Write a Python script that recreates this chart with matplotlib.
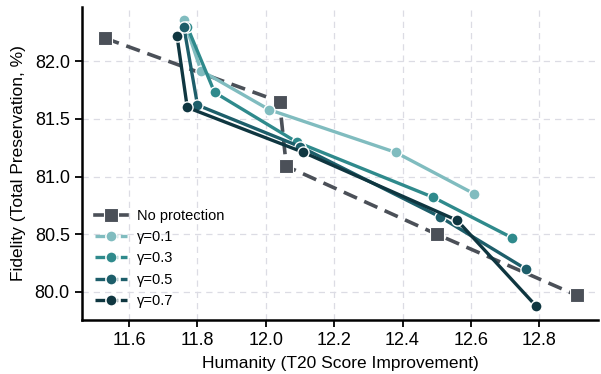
import matplotlib
matplotlib.use("Agg")
import matplotlib.pyplot as plt
from matplotlib.lines import Line2D

plt.rcParams['font.family'] = ['Liberation Sans', 'DejaVu Sans']

# Data
base_x = [11.53, 12.04, 12.06, 12.50, 12.91]
base_y = [82.20, 81.65, 81.09, 80.50, 79.97]

g01_x = [11.76, 11.81, 12.01, 12.38, 12.61]
g01_y = [82.36, 81.92, 81.58, 81.21, 80.85]

g03_x = [11.77, 11.85, 12.09, 12.49, 12.72]
g03_y = [82.30, 81.73, 81.30, 80.82, 80.47]

g05_x = [11.76, 11.80, 12.10, 12.51, 12.76]
g05_y = [82.30, 81.62, 81.26, 80.65, 80.20]

g07_x = [11.74, 11.77, 12.11, 12.56, 12.79]
g07_y = [82.22, 81.60, 81.21, 80.62, 79.88]

labels = ["No protection", "γ=0.1", "γ=0.3", "γ=0.5", "γ=0.7"]
colors = ["#4b5058", "#80bcbf", "#2f8a8c", "#1d5e6a", "#0f3640"]

fig = plt.figure(figsize=(6.01, 3.74), dpi=100)
ax = fig.add_axes([0.137, 0.145, 0.858, 0.836])

ax.grid(True, linestyle=(0, (5, 4)), color="#dcdce4", linewidth=0.9, zorder=0)
ax.set_axisbelow(True)

ax.plot(base_x, base_y, linestyle=(0, (4, 2.2)), color=colors[0], linewidth=2.6,
        marker="s", markersize=10, markeredgecolor="white", markeredgewidth=0.8, zorder=3)

series = [(g01_x, g01_y), (g03_x, g03_y), (g05_x, g05_y), (g07_x, g07_y)]
for i, (xs, ys) in enumerate(series):
    ax.plot(xs, ys, linestyle="-", color=colors[i + 1], linewidth=2.4,
            marker="o", markersize=8, markeredgecolor="white", markeredgewidth=1.0,
            zorder=4 + i)

handles = [Line2D([], [], color=colors[0], linestyle="-", linewidth=2.6, marker="s",
                  markersize=10, markeredgecolor="white", markeredgewidth=0.8)]
for c in colors[1:]:
    handles.append(Line2D([], [], color=c, linestyle=(0, (3, 0.8)), linewidth=2.4, marker="o",
                          markersize=8, markeredgecolor="white", markeredgewidth=1.0))
ax.legend(handles, labels, loc="lower left", frameon=False, fontsize=10.5,
          handlelength=2.2, borderaxespad=0.3, labelspacing=0.5, handletextpad=0.7,
          bbox_to_anchor=(0.005, 0.005))

ax.set_xlim(11.463, 12.972)
ax.set_ylim(79.758, 82.47)
ax.set_xticks([11.6, 11.8, 12.0, 12.2, 12.4, 12.6, 12.8])
ax.set_yticks([80.0, 80.5, 81.0, 81.5, 82.0])
ax.set_xticklabels(["11.6", "11.8", "12.0", "12.2", "12.4", "12.6", "12.8"])
ax.set_yticklabels(["80.0", "80.5", "81.0", "81.5", "82.0"])

ax.set_xlabel("Humanity (T20 Score Improvement)", fontsize=12.5, labelpad=5)
ax.set_ylabel("Fidelity (Total Preservation, %)", fontsize=12.5, labelpad=6)
ax.tick_params(axis="both", labelsize=13, direction="out", length=5, width=1.3, color="black", pad=4)

for s in ["top", "right"]:
    ax.spines[s].set_visible(False)
for s in ["left", "bottom"]:
    ax.spines[s].set_linewidth(1.8)
    ax.spines[s].set_color("black")

fig.savefig("out.png", dpi=100)
